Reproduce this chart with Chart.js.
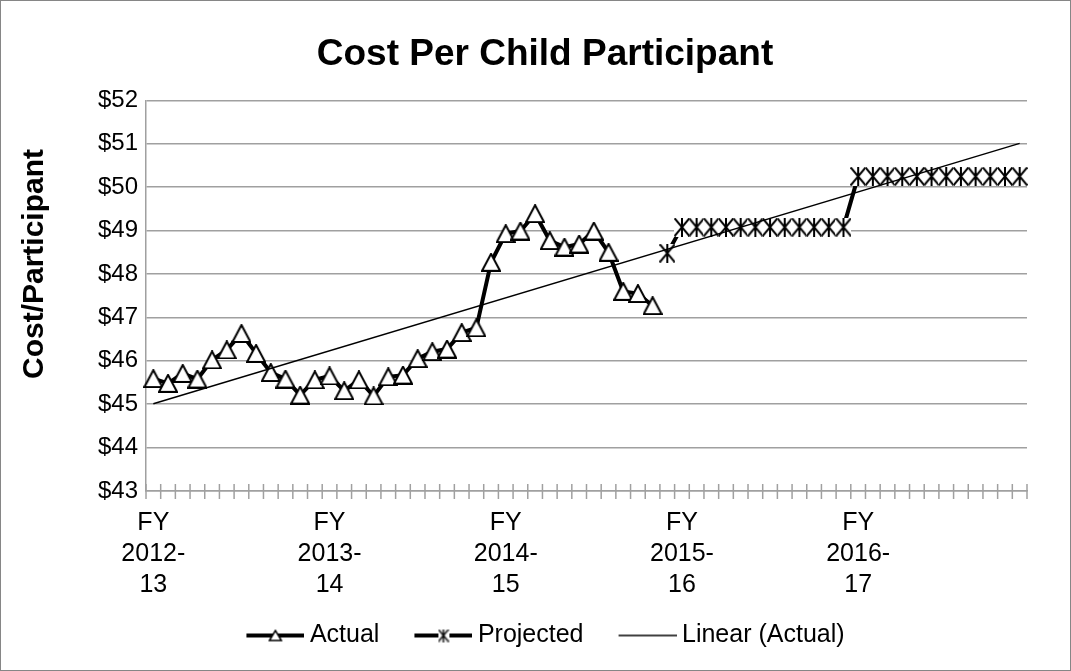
<!DOCTYPE html>
<html>
<head>
<meta charset="utf-8">
<script src="https://cdn.jsdelivr.net/npm/chart.js@4.4.1/dist/chart.umd.min.js"></script>
<style>
  html, body { margin: 0; padding: 0; background: #fff; }
  #wrap { width: 1071px; height: 671px; box-sizing: border-box; border: 1px solid #868686; }
  canvas { display: block; }
</style>
</head>
<body>
<div id="wrap"><canvas id="myChart" width="1069" height="669"></canvas></div>
<script>
// fiscal years shown on the axis, 12 monthly categories each
const fyLabels = [
    ['FY', '2012-', '13'],
    ['FY', '2013-', '14'],
    ['FY', '2014-', '15'],
    ['FY', '2015-', '16'],
    ['FY', '2016-', '17']
]
const seriesNames = ['Actual', 'Projected', 'Linear (Actual)']
const yTitle = 'Cost/Participant'

// monthly cost per participant
const actual = [
    45.59, 45.48, 45.71, 45.58, 46.02, 46.25, 46.63, 46.17, 45.73, 45.58, 45.21, 45.56,
    45.65, 45.31, 45.56, 45.19, 45.63, 45.67, 46.05, 46.21, 46.27, 46.65, 46.76, 48.27,
    48.93, 48.99, 49.39, 48.77, 48.62, 48.69, 48.99, 48.50, 47.60, 47.55, 47.27
]
const projected = [
    48.48,
    49.08, 49.08, 49.08, 49.08, 49.08, 49.08, 49.08, 49.08, 49.08, 49.08, 49.08, 49.08,
    50.25, 50.25, 50.25, 50.25, 50.25, 50.25, 50.25, 50.25, 50.25, 50.25, 50.25, 50.25
]
// trend line, start and end values
const trendEnds = [45.01, 51.01]

const yMin = 43
const yMax = 52

let months = []
fyLabels.forEach((fy) => {
    for (let m = 1; m <= 12; m++) months.push(fy.join(' ') + ' M' + m)
})

const gridColor = '#a0a0a0'
const fontFamily = 'Arial, "Liberation Sans", sans-serif'
const legendShift = 14
const titleShift = 26

Chart.defaults.font.family = fontFamily
Chart.defaults.color = '#000'

function triangleImg(w, h, lw) {
    const c = document.createElement('canvas')
    c.width = w; c.height = h
    const g = c.getContext('2d')
    g.beginPath()
    g.moveTo(1, h - 1); g.lineTo(w / 2, 1); g.lineTo(w - 1, h - 1); g.closePath()
    g.fillStyle = '#fff'; g.fill()
    g.lineWidth = lw; g.strokeStyle = '#000'; g.stroke()
    return c
}

function starImg(w, h, lw) {
    const c = document.createElement('canvas')
    c.width = w; c.height = h
    const g = c.getContext('2d')
    g.fillStyle = '#fff'; g.fillRect(0, 0, w, h)
    g.lineWidth = lw; g.strokeStyle = '#000'
    g.beginPath()
    g.moveTo(0.5, 0.5); g.lineTo(w - 0.5, h - 0.5)
    g.moveTo(w - 0.5, 0.5); g.lineTo(0.5, h - 0.5)
    g.moveTo(w / 2, 0); g.lineTo(w / 2, h)
    g.stroke()
    return c
}

// legend symbol: 58px line with marker, right-aligned in a 90px image
function legendImg(marker, lw) {
    const c = document.createElement('canvas')
    c.width = 90; c.height = 22
    const g = c.getContext('2d')
    g.strokeStyle = '#000'; g.lineWidth = lw
    g.beginPath(); g.moveTo(32, 11); g.lineTo(90, 11); g.stroke()
    if (marker) g.drawImage(marker, 61 - marker.width / 2, 11 - marker.height / 2)
    return c
}

const triMark = triangleImg(20, 19, 2)
const starMark = starImg(16, 19, 2)

const chartExtras = {
    id: 'chartExtras',
    afterLayout(chart) {
        chart.legend.left += legendShift
        chart.legend.right += legendShift
        chart.titleBlock.left += titleShift
        chart.titleBlock.right += titleShift
    },
    beforeDatasetsDraw(chart) {
        const x = chart.scales.x
        const ctx = chart.ctx
        const y0 = chart.chartArea.bottom
        ctx.save()
        ctx.strokeStyle = gridColor
        ctx.lineWidth = 1.5
        for (let i = 0; i <= months.length; i++) {
            const px = x.getPixelForValue(i - 0.5)
            ctx.beginPath()
            ctx.moveTo(px, y0 - 7)
            ctx.lineTo(px, y0 + 8)
            ctx.stroke()
        }
        ctx.restore()
    },
    afterDraw(chart) {
        const ctx = chart.ctx
        ctx.save()
        ctx.translate(34, 263)
        ctx.rotate(-Math.PI / 2)
        ctx.font = 'bold 30px ' + fontFamily
        ctx.fillStyle = '#000'
        ctx.textAlign = 'center'
        ctx.textBaseline = 'middle'
        ctx.fillText(yTitle, 0, 0)
        ctx.restore()
    }
}

const ctx = document.getElementById('myChart')

new Chart(ctx, {
    type: 'line',
    data: {
        labels: months,
        datasets: [{
            label: seriesNames[0],
            data: actual,
            borderColor: '#000',
            borderWidth: 4,
            tension: 0,
            pointStyle: triMark,
            pointRadius: 9,
            order: 2
        }, {
            label: seriesNames[1],
            data: projected.map((v, i) => ({ x: months[actual.length + i], y: v })),
            borderColor: '#000',
            borderWidth: 4,
            tension: 0,
            pointStyle: starMark,
            pointRadius: 9,
            order: 1
        }, {
            label: seriesNames[2],
            data: [
                { x: months[0], y: trendEnds[0] },
                { x: months[months.length - 1], y: trendEnds[1] }
            ],
            borderColor: '#000',
            borderWidth: 1.5,
            tension: 0,
            pointRadius: 0,
            spanGaps: true,
            order: 0
        }]
    },
    options: {
        responsive: false,
        animation: false,
        layout: {
            padding: { left: 10, right: 43, top: 0, bottom: 12 }
        },
        plugins: {
            title: {
                display: true,
                text: 'Cost Per Child Participant',
                color: '#000',
                font: { size: 37, weight: 'bold' },
                padding: { top: 32, bottom: 23 }
            },
            legend: {
                position: 'bottom',
                labels: {
                    usePointStyle: true,
                    pointStyleWidth: 76,
                    padding: 10,
                    color: '#000',
                    font: { size: 25 },
                    generateLabels: () => [
                        { text: seriesNames[0], pointStyle: legendImg(triangleImg(14, 12, 1.5), 4), datasetIndex: 0, lineWidth: 0, fontColor: '#000' },
                        { text: seriesNames[1], pointStyle: legendImg(starImg(11, 13, 1.5), 4), datasetIndex: 1, lineWidth: 0, fontColor: '#000' },
                        { text: seriesNames[2], pointStyle: legendImg(null, 1.5), datasetIndex: 2, lineWidth: 0, fontColor: '#000' }
                    ]
                }
            },
            tooltip: { enabled: false }
        },
        scales: {
            x: {
                offset: true,
                grid: { display: false, drawTicks: false },
                border: { display: true, color: gridColor, width: 1.5 },
                ticks: {
                    autoSkip: false,
                    maxRotation: 0,
                    padding: 16,
                    color: '#000',
                    font: { size: 25, lineHeight: 1.25 },
                    callback: (v, i) => (i % 12 === 0 ? fyLabels[i / 12] : '')
                },
                afterFit: (scale) => { scale.height = 122 }
            },
            y: {
                min: yMin,
                max: yMax,
                grid: { color: gridColor, lineWidth: 1.5, drawTicks: false },
                border: { display: true, color: gridColor, width: 1.5 },
                ticks: {
                    stepSize: 1,
                    padding: 8,
                    color: '#000',
                    font: { size: 24 },
                    callback: (v) => '$' + v
                },
                afterFit: (scale) => { scale.width = 135 }
            }
        }
    },
    plugins: [chartExtras]
});
</script>
</body>
</html>
